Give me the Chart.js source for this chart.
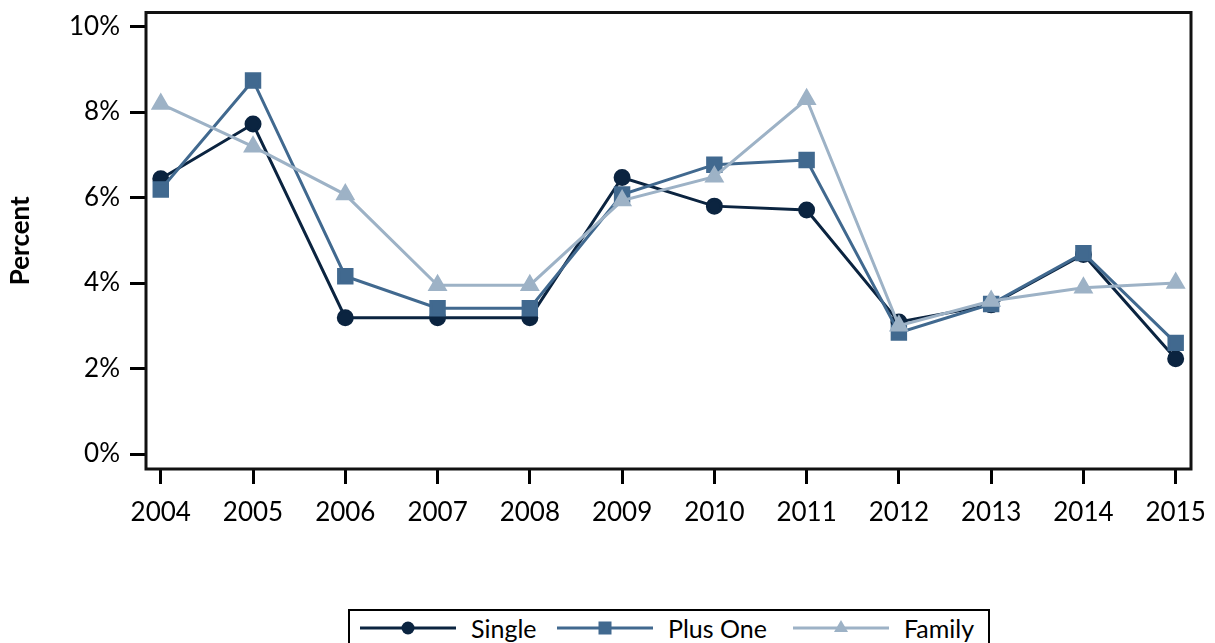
<!DOCTYPE html>
<html>
<head>
<meta charset="utf-8">
<script src="https://cdn.jsdelivr.net/npm/chart.js@4.4.0/dist/chart.umd.min.js"></script>
<style>
  body { margin: 0; background: #fff; }
  #wrap { position: relative; width: 1215px; height: 643px; }
  #legend {
    position: absolute; left: 348px; top: 609px; width: 642px; height: 38px;
    border: 2px solid #000; box-sizing: border-box; background: #fff;
    font-family: Lato, sans-serif; font-size: 25px; color: #000;
  }
  #legend .item { position: absolute; top: 0; height: 34px; display: flex; align-items: center; }
  #legend svg { margin-right: 15px; }
</style>
</head>
<body>
<div id="wrap">
  <canvas id="chart" width="1215" height="643"></canvas>
  <div id="legend"></div>
</div>
<script>
const years = [2004, 2005, 2006, 2007, 2008, 2009, 2010, 2011, 2012, 2013, 2014, 2015];
const single = [6.44, 7.72, 3.19, 3.19, 3.19, 6.47, 5.80, 5.71, 3.09, 3.49, 4.67, 2.23];
const plusOne = [6.19, 8.74, 4.16, 3.41, 3.41, 6.07, 6.77, 6.88, 2.84, 3.51, 4.70, 2.60];
const family = [8.19, 7.19, 6.07, 3.95, 3.95, 5.93, 6.49, 8.30, 3.00, 3.58, 3.89, 4.00];
const yTicks = [0, 2, 4, 6, 8, 10];

const colors = { single: "#0b2440", plusOne: "#41698f", family: "#9db2c6" };
const font = "Lato";

function pts(arr) {
  return arr.map((v, i) => ({ x: years[i], y: v }));
}

// box round the plot area
const frame = {
  id: "frame",
  afterDatasetsDraw(chart) {
    const a = chart.chartArea;
    const ctx = chart.ctx;
    ctx.save();
    ctx.strokeStyle = "#111";
    ctx.lineWidth = 3;
    ctx.strokeRect(a.left, a.top, a.right - a.left, a.bottom - a.top);
    ctx.restore();
  },
};

new Chart("chart", {
  type: "line",
  data: {
    datasets: [
      {
        label: "Family", data: pts(family), borderColor: colors.family, backgroundColor: colors.family,
        pointStyle: "triangle", pointRadius: 8.5, borderWidth: 3, order: 1,
      },
      {
        label: "Plus One", data: pts(plusOne), borderColor: colors.plusOne, backgroundColor: colors.plusOne,
        pointStyle: "rect", pointRadius: 9.5, borderWidth: 3, order: 2,
      },
      {
        label: "Single", data: pts(single), borderColor: colors.single, backgroundColor: colors.single,
        pointStyle: "circle", pointRadius: 7, borderWidth: 3, order: 3,
      },
    ],
  },
  options: {
    responsive: false,
    animation: false,
    layout: { padding: { top: 10, right: 24, left: 0, bottom: 0 } },
    plugins: { legend: { display: false }, tooltip: { enabled: false } },
    elements: { point: { borderWidth: 0, hoverRadius: 8 }, line: { tension: 0 } },
    scales: {
      x: {
        type: "linear",
        min: 2003.84,
        max: 2015.166,
        afterBuildTicks: (s) => { s.ticks = years.map((v) => ({ value: v })); },
        afterFit: (s) => { s.height = 174; s.paddingLeft = 0; s.paddingRight = 0; },
        border: { display: false },
        grid: { drawOnChartArea: false, drawTicks: true, tickLength: 15, tickWidth: 3, color: "#000" },
        ticks: {
          color: "#000", padding: 13, maxRotation: 0,
          font: { family: font, size: 26 },
          callback: (v) => String(v),
        },
      },
      y: {
        min: -0.35,
        max: 10.33,
        afterBuildTicks: (s) => { s.ticks = yTicks.map((v) => ({ value: v })); },
        afterFit: (s) => { s.width = 146; s.paddingTop = 0; s.paddingBottom = 0; },
        border: { display: false },
        grid: { drawOnChartArea: false, drawTicks: true, tickLength: 16, tickWidth: 3, color: "#000" },
        ticks: {
          color: "#000", padding: 10,
          font: { family: font, size: 26 },
          callback: (v) => v + "%",
        },
        title: {
          display: true, text: "Percent", color: "#000",
          font: { family: font, size: 26, weight: "bold" },
          padding: { top: 5, bottom: 0 },
        },
      },
    },
  },
  plugins: [frame],
});

// legend with line + marker swatches
const legendItems = [
  { label: "Single", color: colors.single, shape: "circle", left: 10 },
  { label: "Plus One", color: colors.plusOne, shape: "square", left: 207 },
  { label: "Family", color: colors.family, shape: "triangle", left: 443 },
];
const legend = document.getElementById("legend");
legendItems.forEach((it) => {
  let mark = "";
  if (it.shape === "circle") mark = `<circle cx="48" cy="12" r="6.5" fill="${it.color}"/>`;
  if (it.shape === "square") mark = `<rect x="41.5" y="5.5" width="13" height="13" fill="${it.color}"/>`;
  if (it.shape === "triangle") mark = `<polygon points="48,4 55,16 41,16" fill="${it.color}"/>`;
  const el = document.createElement("div");
  el.className = "item";
  el.style.left = it.left + "px";
  el.innerHTML = `<svg width="96" height="24"><line x1="0" y1="12" x2="96" y2="12" stroke="${it.color}" stroke-width="3"/>${mark}</svg><span>${it.label}</span>`;
  legend.appendChild(el);
});
</script>
</body>
</html>
